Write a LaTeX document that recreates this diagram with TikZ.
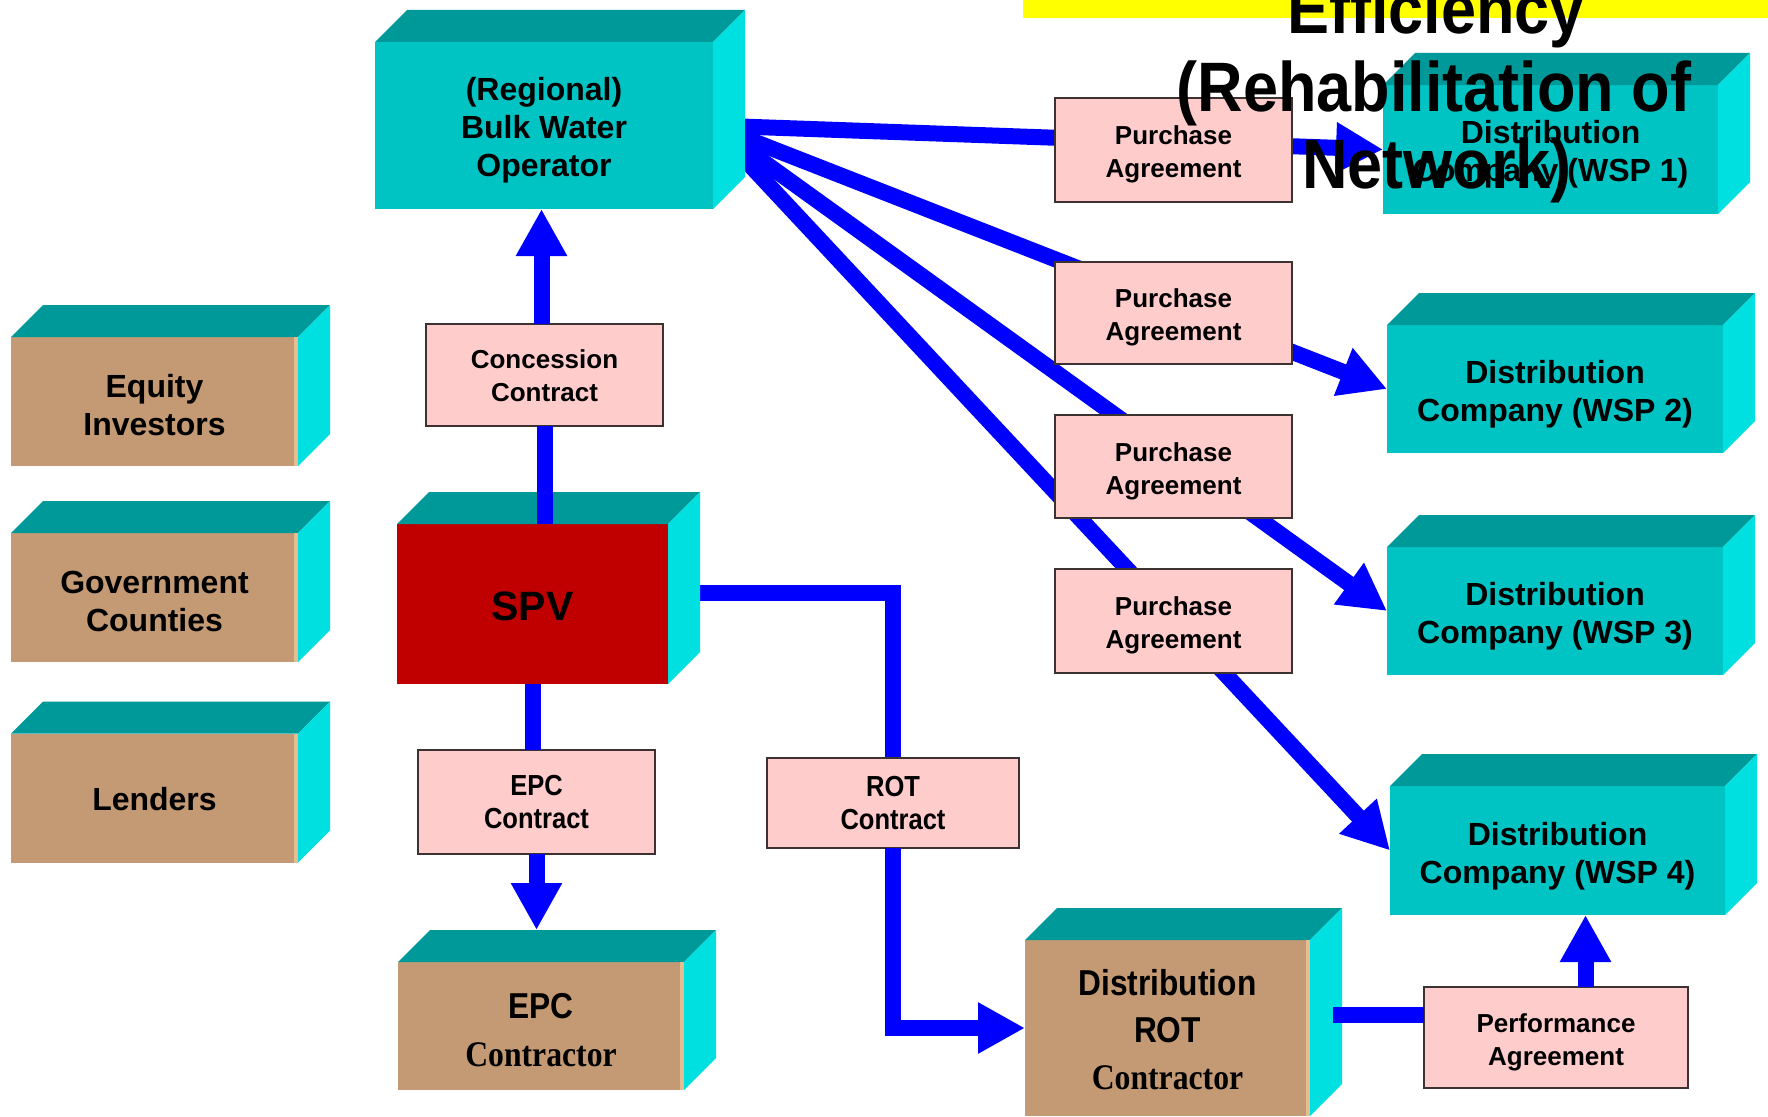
\documentclass[tikz,border=0pt]{standalone}
\usepackage{fontspec}
\setmainfont{Liberation Sans}
\newfontfamily\narrowsans[FakeStretch=0.88]{Liberation Sans}
\newfontfamily\narrowserif[FakeStretch=0.88]{Liberation Serif}
\newfontfamily\titlesans[FakeStretch=0.9]{Liberation Sans}
\usetikzlibrary{arrows.meta,calc}

\pgfdeclarelayer{back}
\pgfdeclarelayer{front}
\pgfsetlayers{back,main,front}

\definecolor{topteal}{RGB}{0,153,153}
\definecolor{sidecyan}{RGB}{0,224,224}
\definecolor{frontcyan}{RGB}{0,196,196}
\definecolor{frontbrown}{RGB}{196,154,116}
\definecolor{brownedge}{RGB}{228,190,145}
\definecolor{spvred}{RGB}{192,0,0}
\definecolor{notepink}{RGB}{255,204,204}
\definecolor{noteborder}{RGB}{60,50,50}
\definecolor{linkblue}{RGB}{0,0,255}
\definecolor{banneryellow}{RGB}{255,255,0}

\tikzset{
  face/.style={inner sep=0pt, outer sep=0pt},
  cyanbox/.style={face, fill=frontcyan},
  brownbox/.style={face, fill=frontbrown},
  redbox/.style={face, fill=spvred},
  note/.style={inner sep=0pt, outer sep=0pt, fill=notepink,
    draw=noteborder, line width=1.6pt},
  blocktext/.style={inner sep=0pt, align=center, text=black,
    font=\bfseries\fontsize{32}{38}\selectfont},
  notetext/.style={blocktext, font=\bfseries\fontsize{26}{33}\selectfont},
  narrowtext/.style={blocktext, font=\narrowsans\bfseries\fontsize{29}{33}\selectfont},
  link/.style={draw=linkblue, line width=16pt},
  linkarrow/.style={link, -{Triangle[length=47pt,width=48pt]}},
  titleline/.style={anchor=base, inner sep=0pt, text=black,
    font=\titlesans\bfseries\fontsize{70}{77}\selectfont},
}

% top and side faces of a block whose front face is the named node
\newcommand\blockfaces[1]{%
  \fill[topteal] (#1.north west) -- ++(32,-32) -- ($(#1.north east)+(32,-32)$)
    -- (#1.north east) -- cycle;
  \fill[sidecyan] (#1.north east) -- ++(32,-32) -- ($(#1.south east)+(32,-32)$)
    -- (#1.south east) -- cycle;
}
\newcommand\brownrim[1]{%
  \fill[brownedge] ($(#1.north east)+(-4,0)$) rectangle (#1.south east);
}
% text of a block or note, set slightly below its centre
\newcommand\facelabel[4][]{%
  \node[blocktext,#1] (#2-text) at ([yshift=-#3pt]#2.center) {#4};
}

\begin{document}
\begin{tikzpicture}[x=1pt, y=-1pt]
\useasboundingbox (0,0) rectangle (1768,1116);

% banner strip
\fill[banneryellow] (1023,0) rectangle (1768,18);

% blocks
\node[cyanbox, minimum width=338pt, minimum height=167pt] (bulk) at (544,125.5) {};
\node[brownbox, minimum width=287pt, minimum height=129pt] (equity) at (154.5,401.5) {};
\node[brownbox, minimum width=287pt, minimum height=129pt] (gov) at (154.5,597.5) {};
\node[brownbox, minimum width=287pt, minimum height=129pt] (lenders) at (154.5,798) {};
\node[redbox, minimum width=271pt, minimum height=160pt] (spv) at (532.5,604) {};
\node[brownbox, minimum width=286pt, minimum height=128pt] (epc) at (541,1026) {};
\node[brownbox, minimum width=285pt, minimum height=176pt] (drot) at (1167.5,1028) {};
\node[cyanbox, minimum width=335pt, minimum height=129pt] (wsp1) at (1550.5,149.5) {};
\node[cyanbox, minimum width=336pt, minimum height=128pt] (wsp2) at (1555,389) {};
\node[cyanbox, minimum width=336pt, minimum height=128pt] (wsp3) at (1555,611) {};
\node[cyanbox, minimum width=335pt, minimum height=129pt] (wsp4) at (1557.5,850.5) {};

\foreach \b in {bulk,equity,gov,lenders,spv,epc,drot,wsp1,wsp2,wsp3,wsp4}
  {\blockfaces{\b}}
\foreach \b in {equity,gov,lenders,epc,drot}
  {\brownrim{\b}}

\facelabel{bulk}{4.5}{(Regional)\\Bulk Water\\Operator}
\facelabel{equity}{3.5}{Equity\\Investors}
\facelabel{gov}{3.5}{Government\\Counties}
\facelabel{lenders}{1}{Lenders}
\facelabel[font=\bfseries\fontsize{41}{48}\selectfont]{spv}{2}{SPV}
\facelabel[font=\bfseries\fontsize{36}{48}\selectfont]{epc}{4}
  {{\narrowsans EPC}\\{\narrowserif Contractor}}
\facelabel[font=\bfseries\fontsize{36}{47}\selectfont]{drot}{2}
  {{\narrowsans Distribution}\\{\narrowsans ROT}\\{\narrowserif Contractor}}
\facelabel{wsp2}{5}{Distribution\\Company (WSP 2)}
\facelabel{wsp3}{5.5}{Distribution\\Company (WSP 3)}
\facelabel{wsp4}{6}{Distribution\\Company (WSP 4)}

% contract notes
\node[note, minimum width=237pt, minimum height=102pt] (conc) at (544.5,375) {};
\node[note, minimum width=237pt, minimum height=104pt] (epcc) at (536.5,802) {};
\node[note, minimum width=252pt, minimum height=90pt] (rotc) at (893,803) {};
\node[note, minimum width=237pt, minimum height=104pt] (pa1) at (1173.5,150) {};
\node[note, minimum width=237pt, minimum height=102pt] (pa2) at (1173.5,313) {};
\node[note, minimum width=237pt, minimum height=103pt] (pa3) at (1173.5,466.5) {};
\node[note, minimum width=237pt, minimum height=104pt] (pa4) at (1173.5,621) {};
\node[note, minimum width=264pt, minimum height=101pt] (perf) at (1556,1037.5) {};

\facelabel[notetext]{conc}{1}{Concession\\Contract}
\facelabel[narrowtext]{epcc}{0}{EPC\\Contract}
\facelabel[narrowtext]{rotc}{0}{ROT\\Contract}
\foreach \p in {pa1,pa2,pa3,pa4}
  {\facelabel[notetext]{\p}{4.5}{Purchase\\Agreement}}
\facelabel[notetext]{perf}{4.5}{Performance\\Agreement}

% connectors running behind the blocks and notes
\begin{pgfonlayer}{back}
  \draw[linkarrow] (bulk.east) -- (wsp1.west);
  \draw[linkarrow] (bulk.east) -- (wsp2.west);
  \draw[linkarrow] (bulk.east) -- (wsp3.west);
  \draw[linkarrow] (bulk.east) -- (wsp4.west);
  \draw[link] ([yshift=11pt]spv.east) -| (rotc.north);
\end{pgfonlayer}

% connectors drawn over the blocks
\begin{pgfonlayer}{front}
  \draw[link] (conc.south |- spv.north) -- (conc.south);
  \draw[linkarrow] ([xshift=-3pt]conc.north) -- ([xshift=-3pt]conc.north |- bulk.south);
  \draw[link] (spv.south) -- (spv.south |- epcc.north);
  \draw[linkarrow] (epcc.south) -- ($(epcc.south |- epc.north)+(0,-32)$);
  \draw[linkarrow] (rotc.south) |- (drot.west);
  \coordinate (drout) at ($(drot.east)+(23,-13)$);
  \draw[link] (drout) -- (drout -| perf.west);
  \coordinate (pfup) at ($(perf.north)+(29.5,0)$);
  \draw[linkarrow] (pfup) -- (pfup |- wsp4.south);

  % first distribution company text sits under the heading
  \facelabel{wsp1}{4.5}{Distribution\\Company (WSP 1)}

  % heading lines
  \node[titleline] (head1) at (1436,34) {Efficiency};
  \node[titleline] (head2) at (1434,111) {(Rehabilitation of};
  \node[titleline] (head3) at (1437,188) {Network)};
\end{pgfonlayer}
\end{tikzpicture}
\end{document}
